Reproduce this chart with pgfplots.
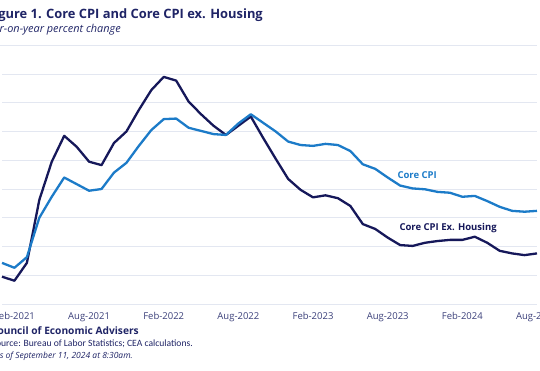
\documentclass[border=0pt]{standalone}
\usepackage{fontspec}
\setmainfont{Open Sans}
\newfontfamily\carlito{Carlito}
\usepackage{pgfplots}
\pgfplotsset{compat=1.18}
\usepackage{pgfplotstable}
\definecolor{coreblue}{HTML}{1C7BC8}
\definecolor{corenavy}{HTML}{16185A}
\definecolor{gridc}{HTML}{E3E7F1}
\definecolor{titlec}{HTML}{1F2466}
\definecolor{tickc}{HTML}{3B407A}
\pgfplotstableread{
i core exh
0 1.43 0.95
1 1.26 0.81
2 1.63 1.43
3 3.00 3.62
4 3.73 4.95
5 4.40 5.85
6 4.17 5.47
7 3.94 4.95
8 4.00 4.83
9 4.57 5.60
10 4.91 6.00
11 5.50 6.75
12 6.05 7.44
13 6.43 7.90
14 6.45 7.77
15 6.13 7.04
16 6.02 6.60
17 5.91 6.20
18 5.88 5.88
19 6.28 6.20
20 6.60 6.52
21 6.30 5.77
22 6.00 5.05
23 5.65 4.35
24 5.53 3.97
25 5.50 3.71
26 5.57 3.78
27 5.53 3.68
28 5.32 3.41
29 4.86 2.78
30 4.70 2.61
31 4.40 2.31
32 4.12 2.05
33 4.02 2.02
34 3.99 2.13
35 3.90 2.19
36 3.87 2.23
37 3.73 2.23
38 3.76 2.34
39 3.58 2.13
40 3.38 1.85
41 3.24 1.76
42 3.21 1.70
43 3.24 1.76
}\datatable
\begin{document}
\begin{tikzpicture}[x=1pt,y=1pt]
\begin{axis}[
  at={(2pt,66pt)}, anchor=origin,
  scale only axis, width=535pt, height=230pt,
  xmin=0, xmax=43, ymin=0, ymax=8,
  axis line style={draw=none},
  major tick length=0pt,
  ytick={0,1,...,8}, yticklabels={},
  ymajorgrids, grid style={color=gridc, line width=0.9pt},
  xtick={1,7,13,19,25,31,37,43},
  xticklabels={Feb-2021,Aug-2021,Feb-2022,Aug-2022,Feb-2023,Aug-2023,Feb-2024,Aug-2024},
  xticklabel style={anchor=base, yshift=-15pt, font=\fontsize{9.5}{11}\selectfont, text=tickc},
  clip=false,
]
\addplot[color=corenavy, line width=2.3pt, line join=round] table[x=i, y=exh] {\datatable};
\addplot[color=coreblue, line width=2.3pt, line join=round] table[x=i, y=core] {\datatable};
\end{axis}
\draw[gridc, line width=0.9pt] (-5pt,324.3pt) -- (537pt,324.3pt);
\node[anchor=base east, inner sep=0pt, text=titlec, font=\fontsize{12.9}{14}\selectfont\bfseries] at (263pt,351pt) {Figure 1. Core CPI and Core CPI ex. Housing};
\node[anchor=base east, inner sep=0pt, text=titlec, font=\fontsize{10.9}{12}\selectfont\itshape] at (121pt,337.5pt) {Year-on-year percent change};
\node[anchor=base west, inner sep=0pt, text=coreblue, font=\fontsize{9.5}{11}\selectfont\bfseries] at (397.3pt,191.7pt) {Core CPI};
\node[anchor=base west, inner sep=0pt, text=corenavy, font=\fontsize{9.5}{11}\selectfont\bfseries] at (399.3pt,140pt) {Core CPI Ex. Housing};
\node[anchor=base east, inner sep=0pt, text=titlec, font=\fontsize{10.2}{12}\selectfont\bfseries] at (139pt,35.3pt) {Council of Economic Advisers};
\node[anchor=base east, inner sep=0pt, text=titlec, font=\carlito\fontsize{9.6}{11}\selectfont] at (193pt,23.7pt) {Source: Bureau of Labor Statistics; CEA calculations.};
\node[anchor=base east, inner sep=0pt, text=titlec, font=\fontsize{8.5}{10}\selectfont\itshape] at (133pt,12pt) {As of September 11, 2024 at 8:30am.};
\pgfresetboundingbox
\path (0pt,0pt) rectangle (540pt,370pt);
\end{tikzpicture}
\end{document}
